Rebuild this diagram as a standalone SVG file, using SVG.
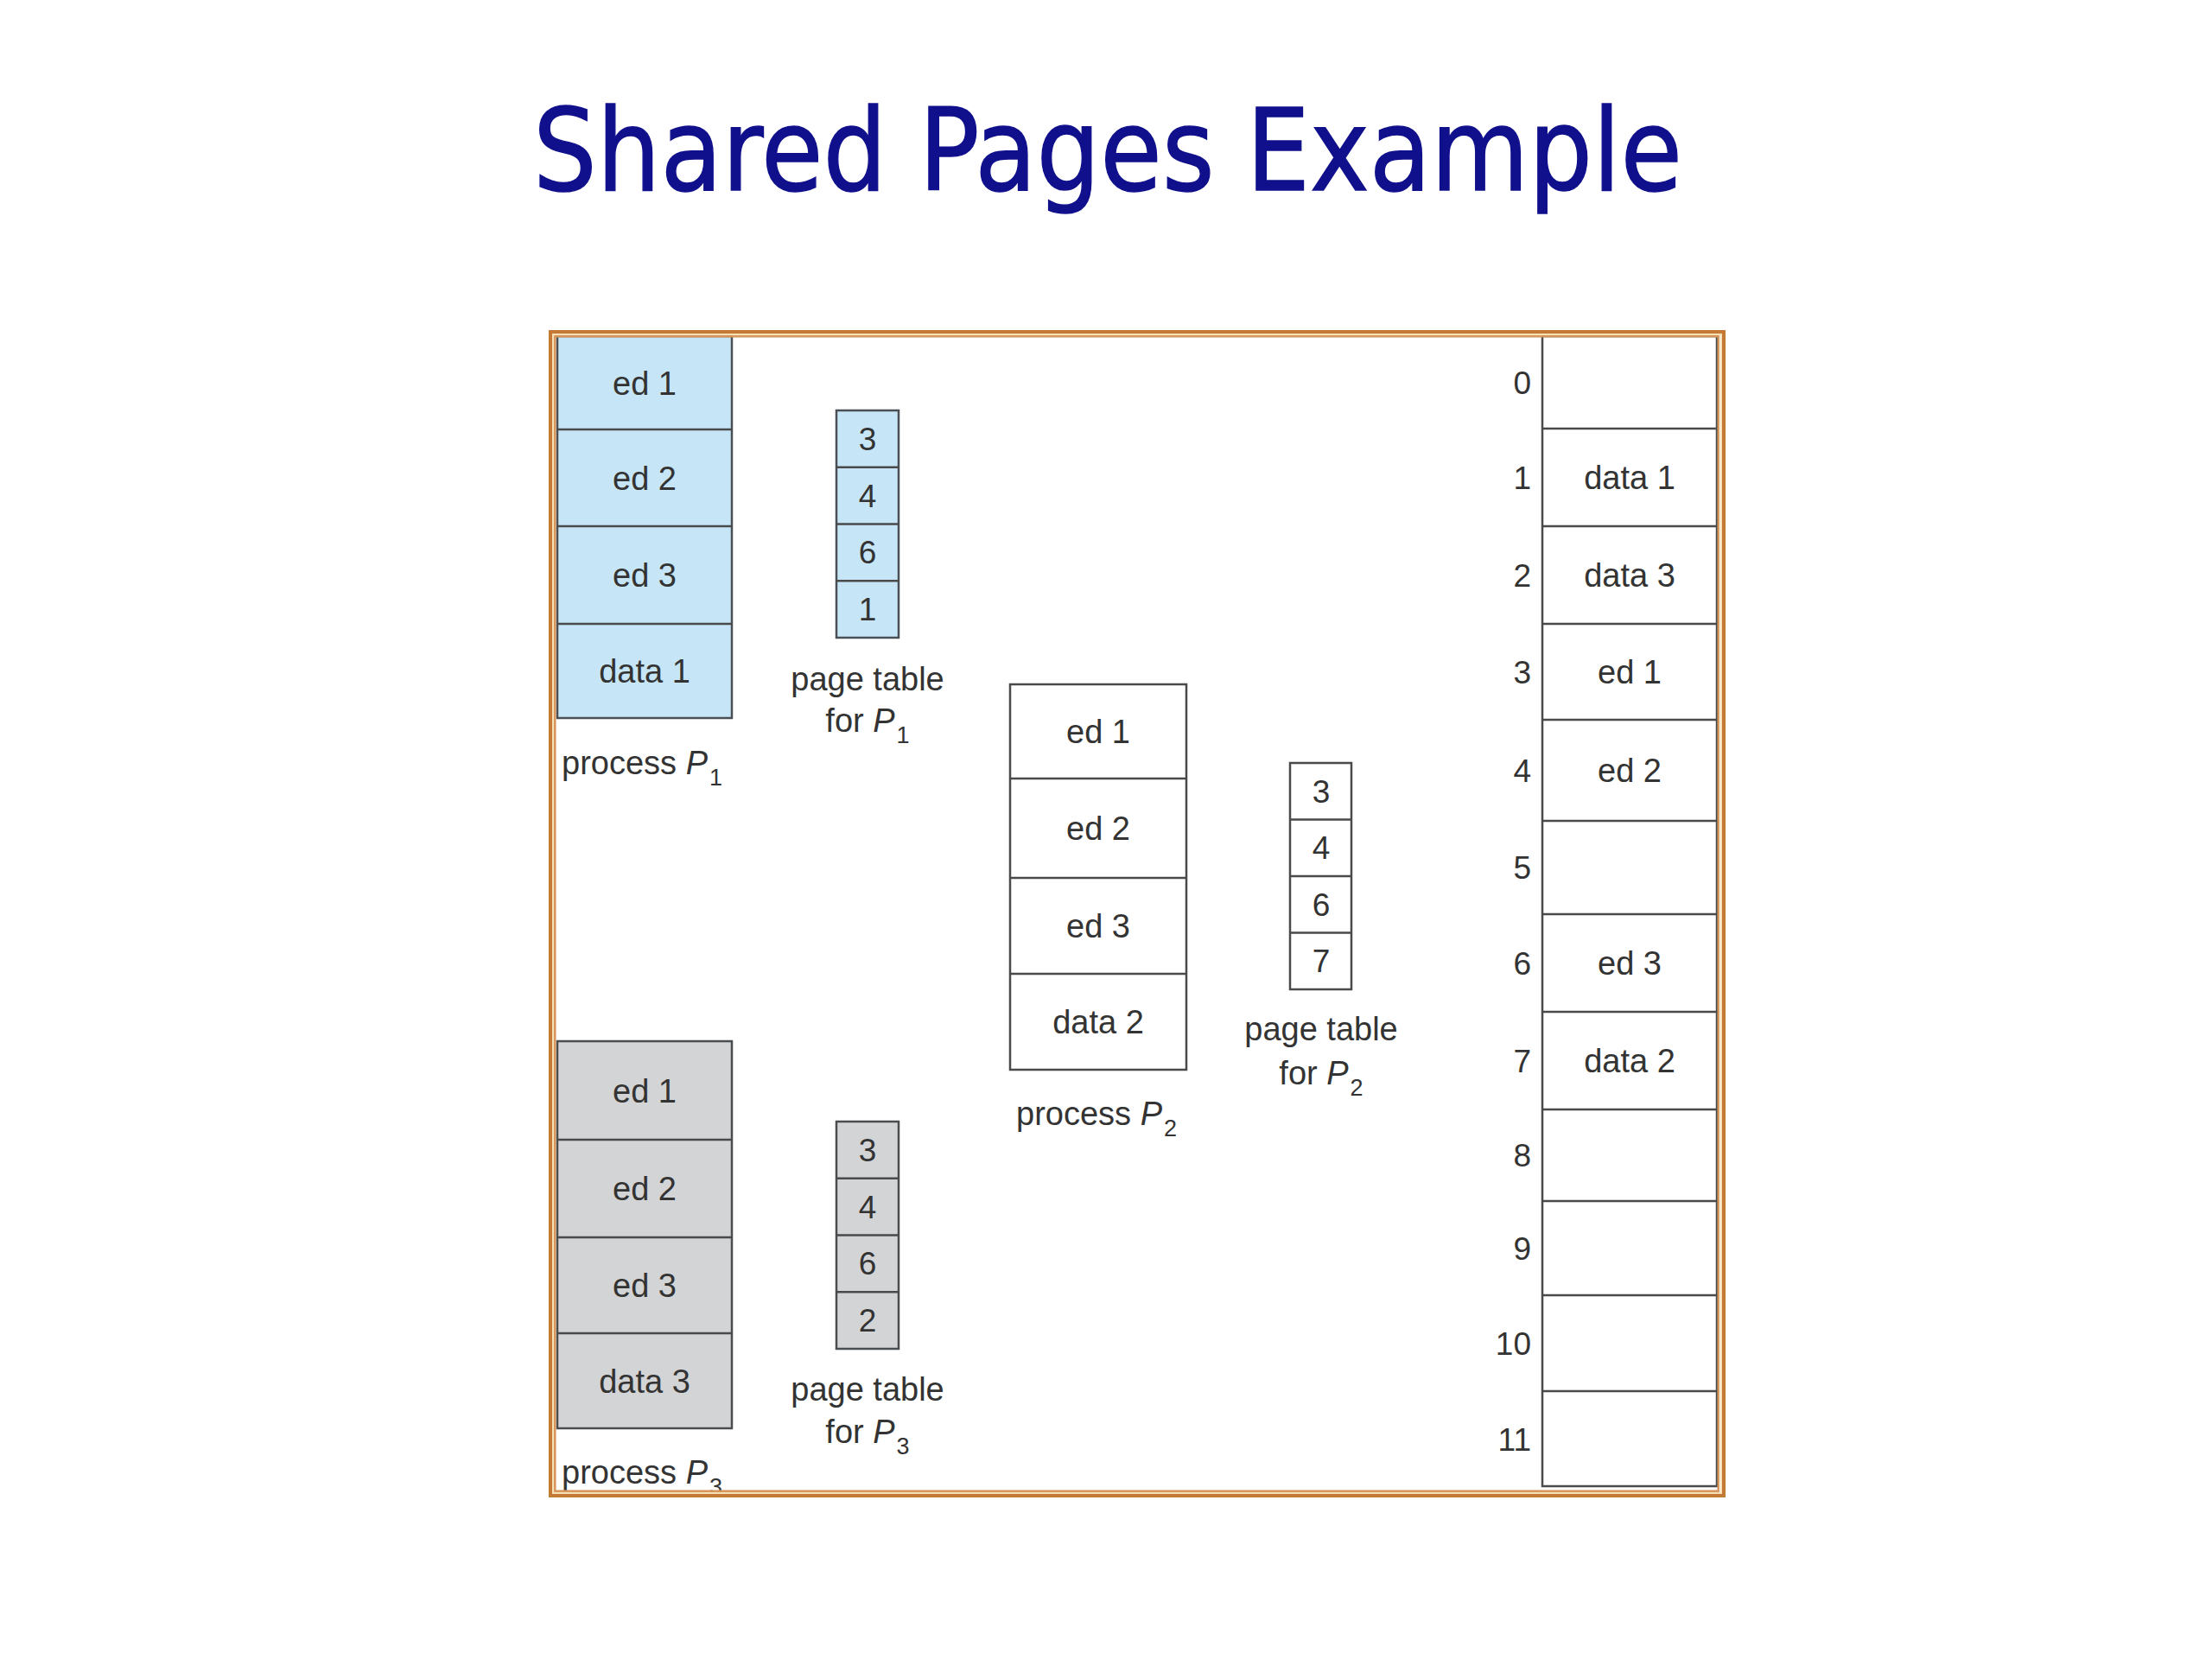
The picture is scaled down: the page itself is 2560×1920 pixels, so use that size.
<svg xmlns="http://www.w3.org/2000/svg" width="2560" height="1920" viewBox="0 0 2560 1920">
<style>
.blue{fill:#c6e6f7;stroke:#4a4f55;stroke-width:2.5}
.gray{fill:#d3d4d6;stroke:#4a4d50;stroke-width:2.5}
.white{fill:#ffffff;stroke:#4a4a4a;stroke-width:2.5}
.ln{stroke:#4a4a4a;stroke-width:2.5;fill:none}
.t{font-family:"Liberation Sans",Arial,sans-serif;font-size:38px;fill:#333333;text-anchor:middle}
.d{font-family:"Liberation Sans",Arial,sans-serif;font-size:37px;fill:#333333;text-anchor:middle}
.n{font-family:"Liberation Sans",Arial,sans-serif;font-size:37px;fill:#333333;text-anchor:end}
.l{font-family:"Liberation Sans",Arial,sans-serif;font-size:38px;fill:#333333}
.it{font-style:italic}
.sub{font-size:27px}
.title{font-family:"Comic Sans MS","DejaVu Sans",sans-serif;font-size:132px;fill:#10108c;stroke:#10108c;stroke-width:1.5}
</style>
<rect width="2560" height="1920" fill="#ffffff"/>
<text class="title" x="617" y="220" textLength="1330" lengthAdjust="spacingAndGlyphs">Shared Pages Example</text>

<g id="process-p1">
<rect class="blue" x="645" y="389" width="202" height="442"/>
<path class="ln" d="M645 497H847M645 609H847M645 722H847"/>
<text class="t" x="746" y="457">ed 1</text>
<text class="t" x="746" y="567">ed 2</text>
<text class="t" x="746" y="679">ed 3</text>
<text class="t" x="746" y="790">data 1</text>
<text class="l" x="650" y="896">process <tspan class="it">P</tspan><tspan class="sub" dx="2" dy="13">1</tspan></text>
</g>

<g id="pagetable-p1">
<rect class="blue" x="968" y="475" width="72" height="263"/>
<path class="ln" d="M968 540.75H1040M968 606.5H1040M968 672.25H1040"/>
<text class="d" x="1004" y="521">3</text>
<text class="d" x="1004" y="587">4</text>
<text class="d" x="1004" y="652">6</text>
<text class="d" x="1004" y="718">1</text>
<text class="t" x="1004" y="799">page table</text>
<text class="t" x="1004" y="847">for <tspan class="it">P</tspan><tspan class="sub" dx="2" dy="13">1</tspan></text>
</g>

<g id="process-p2">
<rect class="white" x="1169" y="792" width="204" height="446"/>
<path class="ln" d="M1169 901H1373M1169 1016H1373M1169 1127H1373"/>
<text class="t" x="1271" y="860">ed 1</text>
<text class="t" x="1271" y="972">ed 2</text>
<text class="t" x="1271" y="1085">ed 3</text>
<text class="t" x="1271" y="1196">data 2</text>
<text class="l" x="1176" y="1302">process <tspan class="it">P</tspan><tspan class="sub" dx="2" dy="13">2</tspan></text>
</g>

<g id="pagetable-p2">
<rect class="white" x="1493" y="883" width="71" height="262"/>
<path class="ln" d="M1493 948.5H1564M1493 1014H1564M1493 1079.5H1564"/>
<text class="d" x="1529" y="929">3</text>
<text class="d" x="1529" y="994">4</text>
<text class="d" x="1529" y="1060">6</text>
<text class="d" x="1529" y="1125">7</text>
<text class="t" x="1529" y="1204">page table</text>
<text class="t" x="1529" y="1255">for <tspan class="it">P</tspan><tspan class="sub" dx="2" dy="13">2</tspan></text>
</g>

<g id="process-p3">
<rect class="gray" x="645" y="1205" width="202" height="448"/>
<path class="ln" d="M645 1319H847M645 1432H847M645 1543H847"/>
<text class="t" x="746" y="1276">ed 1</text>
<text class="t" x="746" y="1389">ed 2</text>
<text class="t" x="746" y="1501">ed 3</text>
<text class="t" x="746" y="1612">data 3</text>
<text class="l" x="650" y="1717">process <tspan class="it">P</tspan><tspan class="sub" dx="2" dy="13">3</tspan></text>
</g>

<g id="pagetable-p3">
<rect class="gray" x="968" y="1298" width="72" height="263"/>
<path class="ln" d="M968 1363.75H1040M968 1429.5H1040M968 1495.25H1040"/>
<text class="d" x="1004" y="1344">3</text>
<text class="d" x="1004" y="1410">4</text>
<text class="d" x="1004" y="1475">6</text>
<text class="d" x="1004" y="1541">2</text>
<text class="t" x="1004" y="1621">page table</text>
<text class="t" x="1004" y="1670">for <tspan class="it">P</tspan><tspan class="sub" dx="2" dy="13">3</tspan></text>
</g>

<g id="physical-memory">
<rect class="white" x="1785" y="389" width="202" height="1331"/>
<path class="ln" d="M1785 496H1987M1785 609H1987M1785 722H1987M1785 833H1987M1785 950H1987M1785 1058H1987M1785 1171H1987M1785 1284H1987M1785 1390H1987M1785 1499H1987M1785 1610H1987"/>
<text class="n" x="1772" y="456">0</text>
<text class="n" x="1772" y="566">1</text>
<text class="n" x="1772" y="679">2</text>
<text class="n" x="1772" y="791">3</text>
<text class="n" x="1772" y="905">4</text>
<text class="n" x="1772" y="1017">5</text>
<text class="n" x="1772" y="1128">6</text>
<text class="n" x="1772" y="1241">7</text>
<text class="n" x="1772" y="1350">8</text>
<text class="n" x="1772" y="1458">9</text>
<text class="n" x="1772" y="1568">10</text>
<text class="n" x="1772" y="1679">11</text>
<text class="t" x="1886" y="566">data 1</text>
<text class="t" x="1886" y="679">data 3</text>
<text class="t" x="1886" y="791">ed 1</text>
<text class="t" x="1886" y="905">ed 2</text>
<text class="t" x="1886" y="1128">ed 3</text>
<text class="t" x="1886" y="1241">data 2</text>
</g>

<g id="connectors"></g>

<g id="frame" fill="none">
<rect x="637" y="384" width="1358" height="1347" stroke="#c47935" stroke-width="4"/>
<rect x="640" y="387" width="1352" height="1341" stroke="#f7dfb6" stroke-width="2"/>
<rect x="642.3" y="389.3" width="1346.4" height="1336.4" stroke="#d6955a" stroke-width="2.5"/>
</g>
</svg>
